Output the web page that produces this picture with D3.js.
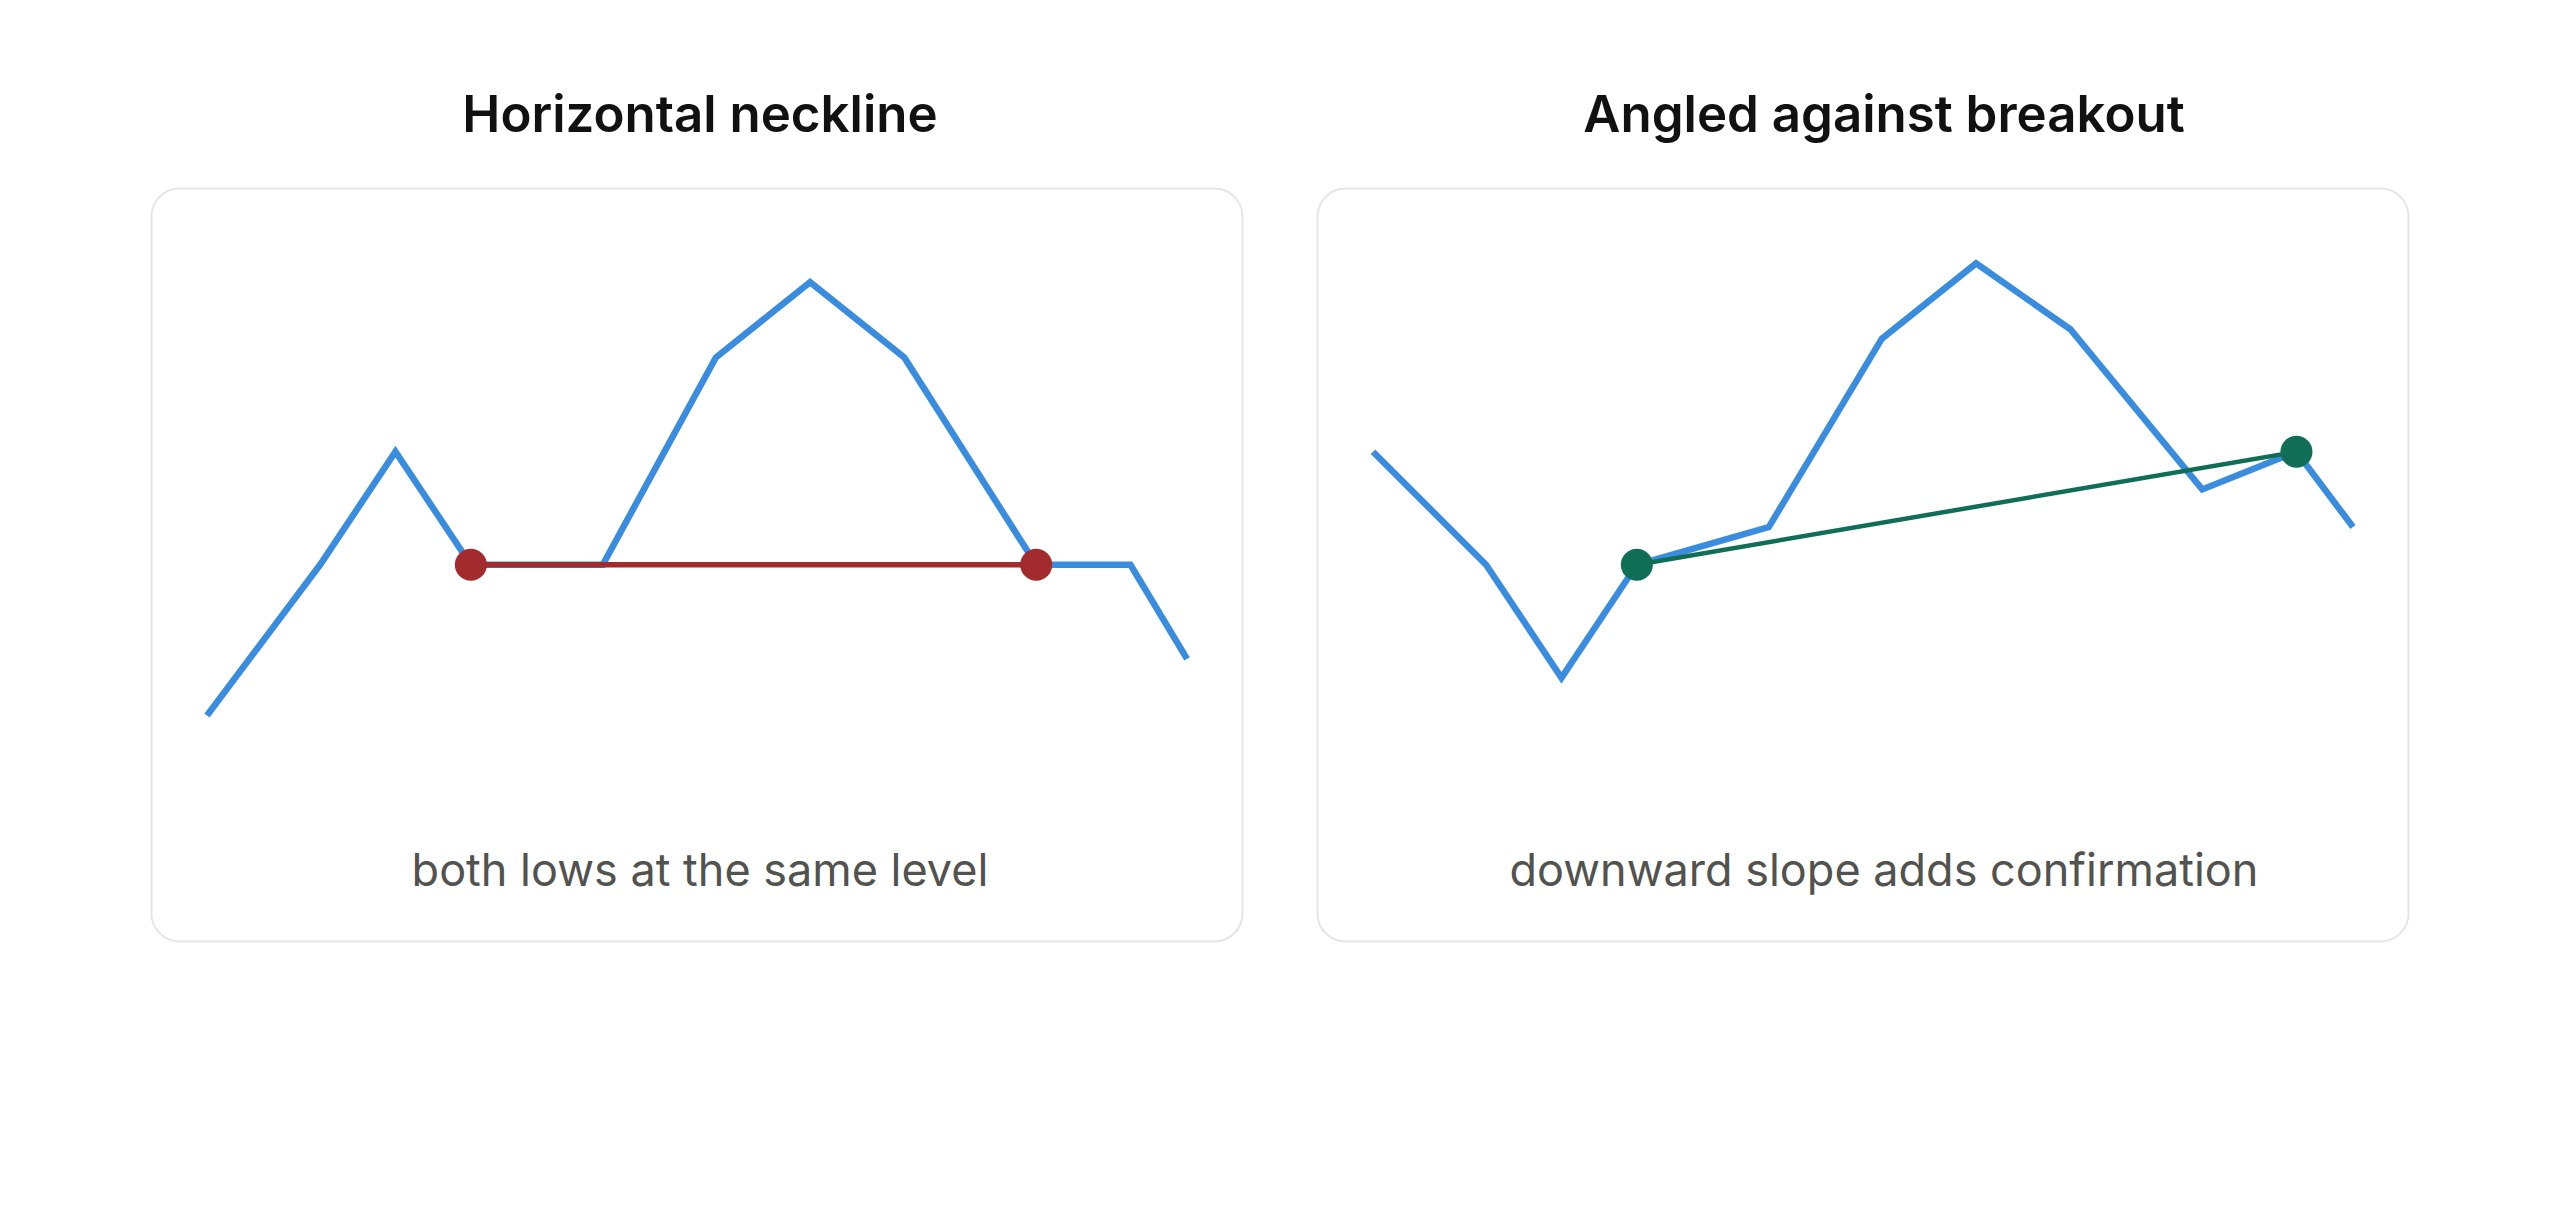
<!DOCTYPE html>
<html>
<head>
<meta charset="utf-8">
<script src="https://cdn.jsdelivr.net/npm/d3@7"></script>
<style>
  html, body { margin: 0; padding: 0; background: #fff; }
  svg { display: block; }
</style>
</head>
<body>
<div id="chart"></div>
<script>
// time steps along the pattern, shared by both panels
const steps = [0, 12, 20, 28, 42, 54, 64, 74, 88, 98, 104];

// price path for the horizontal neckline panel
const flatPrices = [24, 40, 52, 40, 40, 62, 70, 62, 40, 40, 30];
// price path for the angled neckline panel
const angledPrices = [52, 40, 28, 40, 44, 64, 72, 65, 48, 52, 44];

// neckline anchors, as indexes into steps
const flatNeck = [3, 8];
const angledNeck = [3, 9];

const titles = ["Horizontal neckline", "Angled against breakout"];
const captions = ["both lows at the same level", "downward slope adds confirmation"];

const W = 2560, H = 1205;
const cardW = 1091, cardH = 753, cardTop = 188;

const panels = [
  { left: 151, textX: 700, prices: flatPrices, neck: flatNeck, color: "#a32b2e", neckW: 5.5,
    title: titles[0], caption: captions[0] },
  { left: 1317, textX: 1884, prices: angledPrices, neck: angledNeck, color: "#0f6e55", neckW: 4.5,
    title: titles[1], caption: captions[1] }
];

const svg = d3.select("#chart").append("svg")
    .attr("width", W)
    .attr("height", H);

svg.append("rect").attr("width", W).attr("height", H).attr("fill", "#fff");

// same scales for both cards (card-local coordinates)
const x = d3.scaleLinear().domain([0, 104]).range([56, 1036]);
const y = d3.scaleLinear().domain([0, 80]).range([753.5, 0]);

const line = d3.line()
    .x(d => x(d[0]))
    .y(d => y(d[1]));

panels.forEach(p => {
    svg.append("text")
        .attr("x", p.textX)
        .attr("y", 132)
        .attr("text-anchor", "middle")
        .attr("font-family", "Inter, 'Noto Sans', sans-serif")
        .attr("font-weight", 600)
        .attr("font-size", 51)
        .attr("fill", "#111")
        .text(p.title);

    const g = svg.append("g")
        .attr("transform", "translate(" + p.left + "," + cardTop + ")");

    g.append("rect")
        .attr("x", 0.5).attr("y", 0.5)
        .attr("width", cardW).attr("height", cardH)
        .attr("rx", 28).attr("ry", 28)
        .attr("fill", "#fff")
        .attr("stroke", "#e6e6e6")
        .attr("stroke-width", 2);

    const pts = steps.map((s, i) => [s, p.prices[i]]);

    g.append("path")
        .datum(pts)
        .attr("d", line)
        .attr("fill", "none")
        .attr("stroke", "#3a8dde")
        .attr("stroke-width", 6.5);

    const neckPts = p.neck.map(i => pts[i]);

    g.append("path")
        .datum(neckPts)
        .attr("d", line)
        .attr("fill", "none")
        .attr("stroke", p.color)
        .attr("stroke-width", p.neckW);

    g.selectAll("circle.anchor")
        .data(neckPts)
        .join("circle")
        .attr("class", "anchor")
        .attr("cx", d => x(d[0]))
        .attr("cy", d => y(d[1]))
        .attr("r", 16)
        .attr("fill", p.color);

    svg.append("text")
        .attr("x", p.textX)
        .attr("y", 886)
        .attr("text-anchor", "middle")
        .attr("font-family", "Inter, 'Noto Sans', sans-serif")
        .attr("font-size", 45)
        .attr("fill", "#52524f")
        .text(p.caption);
});
</script>
</body>
</html>
